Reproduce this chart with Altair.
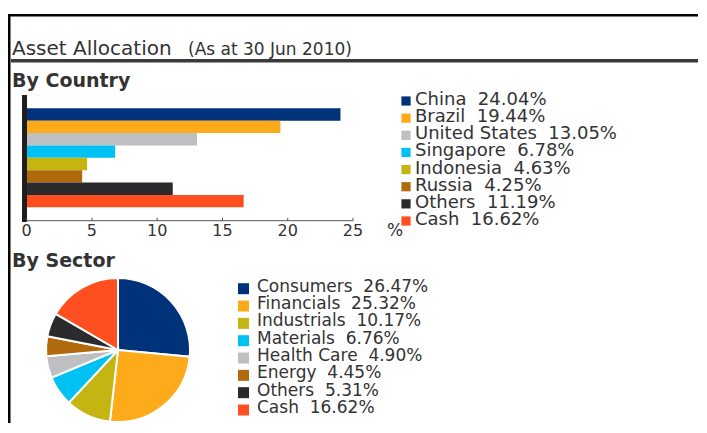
import altair as alt
import pandas as pd

# ---------------- data ----------------
title_main = "Asset Allocation"
title_sub = "(As at 30 Jun 2010)"
title_country = "By Country"
title_sector = "By Sector"
unit_label = "%"

countries = ["China", "Brazil", "United States", "Singapore", "Indonesia", "Russia", "Others", "Cash"]
country_pct = [24.04, 19.44, 13.05, 6.78, 4.63, 4.25, 11.19, 16.62]

sectors = ["Consumers", "Financials", "Industrials", "Materials", "Health Care", "Energy", "Others", "Cash"]
sector_pct = [26.47, 25.32, 10.17, 6.76, 4.90, 4.45, 5.31, 16.62]

x_ticks = [0, 5, 10, 15, 20, 25]

# ---------------- styles ----------------
NAVY, ORANGE, GREY, CYAN, OLIVE, BROWN, DARK, RED = (
    "#00327A", "#FDAA1B", "#BEBFC3", "#00C1F1", "#C5B512", "#B0690B", "#2B2B2D", "#FF4E1F")
country_colors = [NAVY, ORANGE, GREY, CYAN, OLIVE, BROWN, DARK, RED]
sector_colors = [NAVY, ORANGE, OLIVE, CYAN, GREY, BROWN, DARK, RED]

FONT = "DejaVu Sans"
TXT = "#333333"
W, H = 691, 415

# ---------------- tables ----------------
cdf = pd.DataFrame({"country": countries, "pct": country_pct})
cdf["label"] = [f"{c}\u00a0 {p:.2f}%" for c, p in zip(countries, country_pct)]
sdf = pd.DataFrame({"sector": sectors, "pct": sector_pct, "idx": range(len(sectors))})
sdf["label"] = [f"{s}\u00a0 {p:.2f}%" for s, p in zip(sectors, sector_pct)]
tdf = pd.DataFrame({"t": x_ticks})
ddf = pd.DataFrame({"x0": [x_ticks[0]], "x1": [x_ticks[-1]]})

xscale = alt.Scale(domain=[x_ticks[0], x_ticks[-1]], range=[18.7, 345])
ccolor = alt.Color("country:N", scale=alt.Scale(domain=countries, range=country_colors), legend=None)
scolor = alt.Color("sector:N", scale=alt.Scale(domain=sectors, range=sector_colors), legend=None)


def static_text(txt, x, y, size, weight="normal"):
    return alt.Chart(pd.DataFrame({"t": [txt]})).mark_text(
        font=FONT, fontSize=size, fontWeight=weight, color=TXT, align="left", baseline="alphabetic"
    ).encode(text="t:N", x=alt.value(x), y=alt.value(y))


def band(x1, x2, y1, y2, color="black"):
    return alt.Chart(pd.DataFrame({"a": [0]})).mark_rect(color=color, strokeWidth=0).encode(
        x=alt.value(x1), x2=alt.value(x2), y=alt.value(y1), y2=alt.value(y2))


# frame
frame = [
    band(0, W - 1, 6, 8.5),
    band(0, 2.5, 6, H),
    band(3, W - 1, 51, 54.5, "#3a3a3a"),
]

titles = [
    static_text(title_main, 4, 47, 20),
    static_text(title_sub, 180, 47, 17),
    static_text(title_country, 4, 79, 19, "bold"),
    static_text(title_sector, 4, 259, 19, "bold"),
    static_text(unit_label, 379, 227.5, 17),
]

# bar chart
bars = alt.Chart(cdf).mark_bar().encode(
    x=alt.X("pct:Q", scale=xscale, axis=None),
    y=alt.Y("country:N", scale=alt.Scale(domain=countries, range=[100.3, 199.3],
                                         paddingInner=0, paddingOuter=0), axis=None),
    color=ccolor,
)
yaxis_bar = band(14, 19, 87, 214, "#1e1e1e")
domain_line = alt.Chart(ddf).mark_rule(color="#555555", strokeWidth=1).encode(
    x=alt.X("x0:Q", scale=xscale, axis=None), x2="x1:Q", y=alt.value(212.7))
ticks = alt.Chart(tdf).mark_rule(color="#555555", strokeWidth=1).encode(
    x=alt.X("t:Q", scale=xscale, axis=None), y=alt.value(209.8), y2=alt.value(212.7))
tick_labels = alt.Chart(tdf).mark_text(font=FONT, fontSize=16, color=TXT, align="center",
                                       baseline="alphabetic").encode(
    x=alt.X("t:Q", scale=xscale, axis=None), y=alt.value(227.5), text=alt.Text("t:Q", format="d"))

# country legend
c_sq = alt.Chart(cdf).mark_square(size=85, opacity=1).encode(
    x=alt.value(398),
    y=alt.Y("country:N", scale=alt.Scale(type="point", domain=countries, range=[93, 213], padding=0), axis=None),
    color=ccolor,
)
c_txt = alt.Chart(cdf).mark_text(font=FONT, fontSize=18, color=TXT, align="left", baseline="alphabetic").encode(
    x=alt.value(407),
    y=alt.Y("country:N", scale=alt.Scale(type="point", domain=countries, range=[97, 217], padding=0), axis=None),
    text="label:N",
)

# pie
pie = alt.Chart(sdf).mark_arc(radius=72, stroke="white", strokeWidth=2).encode(
    theta=alt.Theta("pct:Q", stack=True),
    order=alt.Order("idx:Q"),
    color=scolor,
    x=alt.value(110),
    y=alt.value(342),
)

# sector legend
s_sq = alt.Chart(sdf).mark_square(size=121, opacity=1).encode(
    x=alt.value(235.5),
    y=alt.Y("sector:N", scale=alt.Scale(type="point", domain=sectors, range=[280.7, 402], padding=0), axis=None),
    color=scolor,
)
s_txt = alt.Chart(sdf).mark_text(font=FONT, fontSize=17, color=TXT, align="left", baseline="alphabetic").encode(
    x=alt.value(249),
    y=alt.Y("sector:N", scale=alt.Scale(type="point", domain=sectors, range=[283.7, 405], padding=0), axis=None),
    text="label:N",
)

chart = alt.layer(
    *frame, *titles, bars, yaxis_bar, domain_line, ticks, tick_labels, c_sq, c_txt, pie, s_sq, s_txt
).resolve_scale(
    x="independent", y="independent", color="independent", theta="independent"
).properties(
    width=W, height=H, autosize=alt.AutoSizeParams(type="none"), padding=0
).configure_view(strokeWidth=0, fill="white")

chart.save("out.html", embed_options={"renderer": "svg", "actions": False})
